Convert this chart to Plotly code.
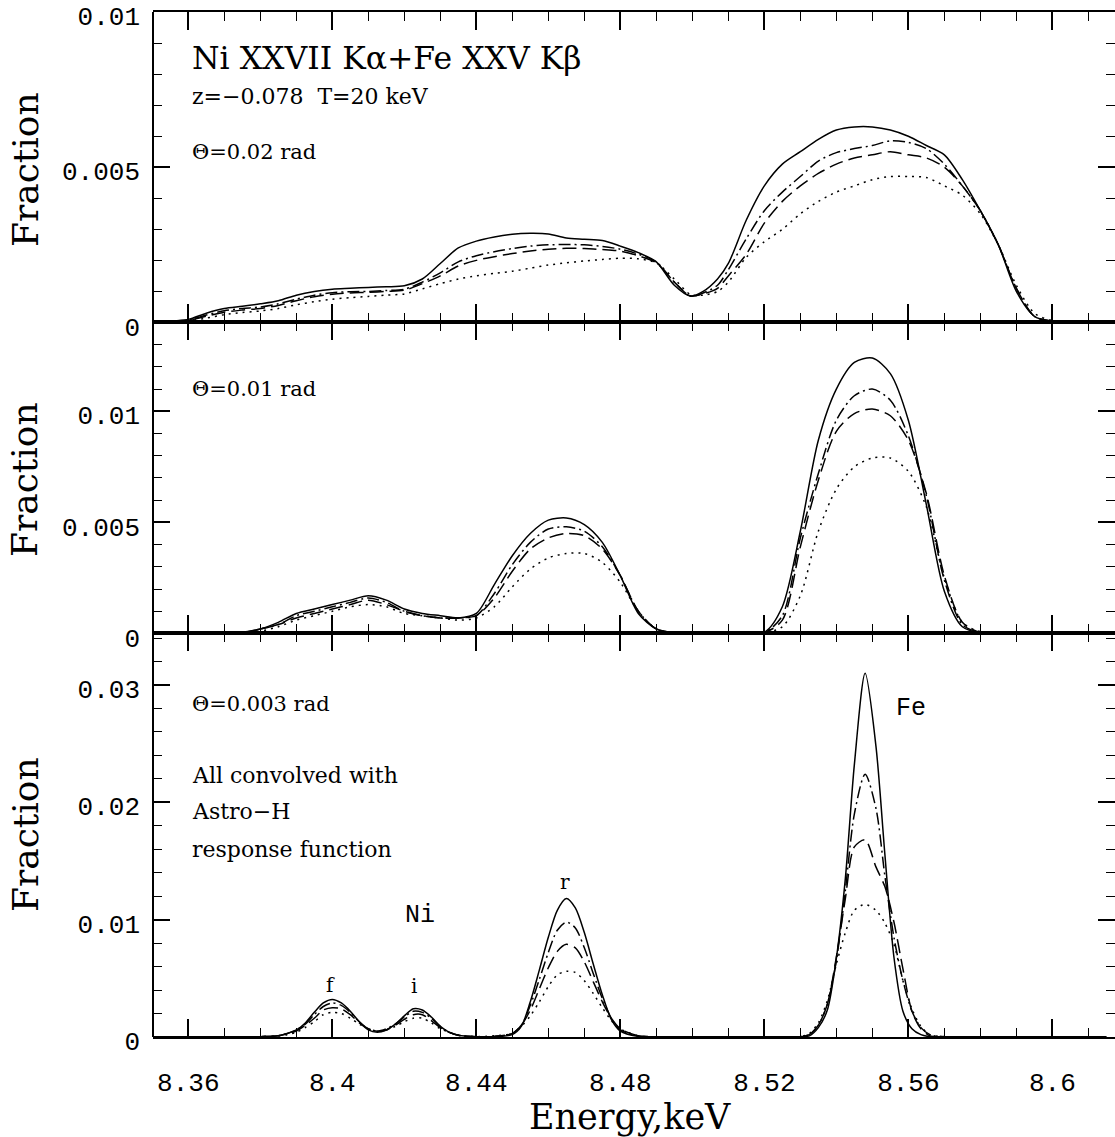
import plotly.graph_objects as go

# ---------------- data ----------------
# Panel 1: Theta = 0.02 rad
energy_top = [8.350, 8.355, 8.360, 8.365, 8.370, 8.375, 8.380, 8.385, 8.390, 8.395,
              8.400, 8.405, 8.410, 8.415, 8.420, 8.425, 8.430, 8.435, 8.440, 8.445,
              8.450, 8.455, 8.460, 8.465, 8.470, 8.475, 8.480, 8.485, 8.490, 8.495,
              8.4995, 8.503, 8.507, 8.510, 8.515, 8.520, 8.525, 8.530, 8.535, 8.540,
              8.545, 8.550, 8.555, 8.560, 8.565, 8.570, 8.575, 8.580, 8.585, 8.590,
              8.595, 8.600, 8.607, 8.615]
top_solid = [0.00005, 0.00005, 0.0001, 0.0003, 0.00045, 0.00052, 0.0006, 0.0007, 0.00088, 0.001,
             0.00107, 0.0011, 0.00113, 0.00115, 0.00118, 0.0014, 0.0019, 0.0024, 0.00262, 0.00275,
             0.00284, 0.00287, 0.00285, 0.00272, 0.00268, 0.00264, 0.00246, 0.00225, 0.00195, 0.0012,
             0.00085, 0.0010, 0.0014, 0.0019, 0.0033, 0.0044, 0.0051, 0.0055, 0.0059, 0.0062,
             0.0063, 0.0063, 0.0062, 0.0060, 0.0057, 0.0054, 0.0046, 0.0036, 0.0025, 0.0010,
             0.0002, 0.00004, 0.00003, 0.00003]
top_dashdot = [0.00005, 0.00005, 0.00008, 0.00024, 0.00038, 0.00045, 0.0005, 0.0006, 0.00075, 0.00088,
               0.00096, 0.00099, 0.001, 0.00103, 0.00107, 0.0013, 0.0016, 0.00195, 0.00215, 0.00228,
               0.00238, 0.00246, 0.0025, 0.00251, 0.0025, 0.00245, 0.00236, 0.0022, 0.00195, 0.0013,
               0.00085, 0.00095, 0.0012, 0.0017, 0.0027, 0.0036, 0.0042, 0.0047, 0.0052, 0.00547,
               0.0056, 0.0057, 0.00585, 0.0058, 0.0056, 0.0051, 0.0044, 0.0036, 0.0025, 0.0011,
               0.0002, 0.00004, 0.00003, 0.00003]
top_dash = [0.00005, 0.00005, 0.00007, 0.0002, 0.00033, 0.0004, 0.00045, 0.00055, 0.0007, 0.00083,
            0.00091, 0.00095, 0.00097, 0.001, 0.00104, 0.00125, 0.0015, 0.00182, 0.002, 0.00212,
            0.00222, 0.0023, 0.00236, 0.00239, 0.00238, 0.00235, 0.0023, 0.00215, 0.00192, 0.0013,
            0.00085, 0.00092, 0.0011, 0.0015, 0.0022, 0.0032, 0.0039, 0.0044, 0.0048, 0.0051,
            0.0053, 0.0054, 0.0055, 0.0054, 0.0053, 0.0050, 0.0044, 0.0036, 0.0025, 0.0011,
            0.0002, 0.00004, 0.00003, 0.00003]
top_dot = [0.00005, 0.00004, 0.00005, 0.00014, 0.00025, 0.00032, 0.00037, 0.00045, 0.00057, 0.00067,
           0.00075, 0.0008, 0.00084, 0.00088, 0.00092, 0.00108, 0.00125, 0.0014, 0.0015, 0.00158,
           0.00165, 0.00175, 0.00185, 0.00192, 0.00198, 0.00203, 0.00207, 0.00205, 0.00192, 0.0014,
           0.0009, 0.00088, 0.0010, 0.0013, 0.0021, 0.0026, 0.0030, 0.0035, 0.0039, 0.0042,
           0.0044, 0.0046, 0.0047, 0.0047, 0.00467, 0.0044, 0.0041, 0.0035, 0.0025, 0.0012,
           0.0003, 0.00006, 0.00004, 0.00003]

# Panel 2: Theta = 0.01 rad
energy_mid = [8.350, 8.360, 8.370, 8.375, 8.380, 8.385, 8.390, 8.395, 8.400, 8.405,
              8.410, 8.415, 8.420, 8.425, 8.430, 8.435, 8.440, 8.445, 8.450, 8.455,
              8.460, 8.465, 8.470, 8.475, 8.480, 8.485, 8.490, 8.495, 8.500, 8.510,
              8.520, 8.525, 8.530, 8.535, 8.540, 8.545, 8.550, 8.555, 8.560, 8.565,
              8.570, 8.575, 8.580, 8.590, 8.600, 8.615]
mid_solid = [2e-5, 2e-5, 2e-5, 5e-5, 0.0002, 0.0005, 0.0009, 0.0011, 0.0013, 0.0015,
             0.0017, 0.0015, 0.0011, 0.0009, 0.0008, 0.0007, 0.0009, 0.0022, 0.0035, 0.0045,
             0.0051, 0.0052, 0.0049, 0.0041, 0.0026, 0.0009, 0.0002, 3e-5, 2e-5, 2e-5,
             5e-5, 0.0012, 0.0046, 0.0087, 0.0110, 0.0122, 0.0124, 0.0117, 0.0096, 0.0058,
             0.0019, 0.0003, 3e-5, 2e-5, 2e-5, 2e-5]
mid_dashdot = [2e-5, 2e-5, 2e-5, 4e-5, 0.0002, 0.0004, 0.0008, 0.0010, 0.0012, 0.0014,
               0.0016, 0.0014, 0.0010, 0.0008, 0.0007, 0.0007, 0.0008, 0.0018, 0.0031, 0.0041,
               0.0047, 0.0048, 0.0046, 0.0039, 0.0026, 0.0010, 0.0002, 3e-5, 2e-5, 2e-5,
               4e-5, 0.0008, 0.0043, 0.0072, 0.0096, 0.0107, 0.0110, 0.0105, 0.0089, 0.0062,
               0.0024, 0.0004, 5e-5, 2e-5, 2e-5, 2e-5]
mid_dash = [2e-5, 2e-5, 2e-5, 4e-5, 0.0002, 0.0004, 0.0007, 0.0009, 0.0011, 0.0013,
            0.0015, 0.0013, 0.0010, 0.0008, 0.0007, 0.0007, 0.0008, 0.0016, 0.0028, 0.0038,
            0.0043, 0.0045, 0.0044, 0.0038, 0.0026, 0.0010, 0.0002, 3e-5, 2e-5, 2e-5,
            4e-5, 0.0006, 0.0039, 0.0069, 0.0091, 0.0099, 0.0101, 0.0098, 0.0087, 0.0063,
            0.0026, 0.0005, 5e-5, 2e-5, 2e-5, 2e-5]
mid_dot = [2e-5, 2e-5, 2e-5, 3e-5, 0.0001, 0.0003, 0.0006, 0.0008, 0.0010, 0.0012,
           0.0013, 0.0012, 0.0009, 0.0008, 0.0007, 0.0006, 0.0007, 0.0012, 0.0021, 0.0029,
           0.0034, 0.0036, 0.0036, 0.0032, 0.0023, 0.0010, 0.0002, 4e-5, 2e-5, 2e-5,
           3e-5, 0.0003, 0.0017, 0.0046, 0.0065, 0.0075, 0.0079, 0.0079, 0.0073, 0.0057,
           0.0025, 0.0005, 8e-5, 3e-5, 2e-5, 2e-5]

# Panel 3: Theta = 0.003 rad (convolved with Astro-H response)
energy_bot = [8.350, 8.370, 8.380, 8.385, 8.3875, 8.390, 8.3925, 8.395, 8.3975, 8.400,
              8.4025, 8.405, 8.4075, 8.410, 8.4125, 8.415, 8.4175, 8.420, 8.4225, 8.425,
              8.4275, 8.430, 8.4325, 8.435, 8.440, 8.445, 8.450, 8.4525, 8.455, 8.4575,
              8.460, 8.4625, 8.465, 8.4675, 8.470, 8.4725, 8.475, 8.4775, 8.480, 8.485,
              8.490, 8.500, 8.510, 8.520, 8.525, 8.530, 8.5325, 8.535, 8.5375, 8.540,
              8.5425, 8.545, 8.548, 8.551, 8.5535, 8.556, 8.5585, 8.561, 8.5635, 8.566,
              8.570, 8.580, 8.590, 8.600, 8.615]
bot_solid = [2e-5, 2e-5, 3e-5, 0.0001, 0.0003, 0.0006, 0.0012, 0.0021, 0.0029, 0.0032,
             0.0029, 0.0022, 0.0013, 0.0006, 0.0004, 0.0006, 0.0011, 0.0018, 0.0024, 0.0023,
             0.0017, 0.0009, 0.0004, 0.00015, 3e-5, 3e-5, 0.0002, 0.0009, 0.0030, 0.0057,
             0.0085, 0.0108, 0.0118, 0.0110, 0.0089, 0.0062, 0.0036, 0.0015, 0.0005, 5e-5,
             2e-5, 2e-5, 2e-5, 2e-5, 2e-5, 3e-5, 0.0001, 0.0008, 0.0023, 0.0067,
             0.0135, 0.0232, 0.0310, 0.0248, 0.0155, 0.0068, 0.0022, 0.0007, 0.0002, 3e-5,
             2e-5, 2e-5, 2e-5, 2e-5, 2e-5]
bot_dashdot = [2e-5, 2e-5, 3e-5, 0.0001, 0.0003, 0.0006, 0.0011, 0.0019, 0.0026, 0.0029,
               0.0027, 0.0021, 0.0013, 0.0007, 0.0005, 0.0007, 0.0011, 0.0017, 0.0022, 0.0021,
               0.0016, 0.0009, 0.0004, 0.00015, 3e-5, 5e-5, 0.0003, 0.0010, 0.0027, 0.0049,
               0.0072, 0.0091, 0.0098, 0.0093, 0.0076, 0.0054, 0.0033, 0.0016, 0.0006, 0.0001,
               2e-5, 2e-5, 2e-5, 2e-5, 2e-5, 3e-5, 0.0002, 0.0010, 0.0028, 0.0065,
               0.0125, 0.0190, 0.0224, 0.0195, 0.0137, 0.0085, 0.0048, 0.0022, 0.0008, 0.0002,
               3e-5, 2e-5, 2e-5, 2e-5, 2e-5]
bot_dash = [2e-5, 2e-5, 3e-5, 0.0001, 0.0003, 0.0005, 0.0010, 0.0016, 0.0023, 0.0025,
            0.0024, 0.0019, 0.0012, 0.0007, 0.0005, 0.0006, 0.0010, 0.0015, 0.0019, 0.0019,
            0.0014, 0.0008, 0.0004, 0.00015, 3e-5, 5e-5, 0.0003, 0.0010, 0.0023, 0.0041,
            0.0059, 0.0073, 0.0079, 0.0076, 0.0064, 0.0047, 0.0030, 0.0016, 0.0007, 0.0001,
            2e-5, 2e-5, 2e-5, 2e-5, 2e-5, 3e-5, 0.0002, 0.0010, 0.0028, 0.0068,
            0.0118, 0.0162, 0.0168, 0.0145, 0.0128, 0.0098, 0.0058, 0.0022, 0.0007, 0.0001,
            3e-5, 2e-5, 2e-5, 2e-5, 2e-5]
bot_dot = [2e-5, 2e-5, 3e-5, 0.0001, 0.0002, 0.0004, 0.0008, 0.0013, 0.0019, 0.0021,
           0.0020, 0.0016, 0.0011, 0.0007, 0.0005, 0.0006, 0.0009, 0.0013, 0.0016, 0.0016,
           0.0012, 0.0007, 0.0004, 0.00015, 3e-5, 0.0001, 0.0003, 0.0009, 0.0018, 0.0030,
           0.0043, 0.0053, 0.0056, 0.0055, 0.0048, 0.0037, 0.0025, 0.0014, 0.0007, 0.0001,
           2e-5, 2e-5, 2e-5, 2e-5, 2e-5, 3e-5, 0.0003, 0.0012, 0.0031, 0.0062,
           0.0089, 0.0108, 0.0113, 0.0108, 0.0097, 0.0079, 0.0048, 0.0024, 0.0009, 0.0002,
           3e-5, 2e-5, 2e-5, 2e-5, 2e-5]

# ---------------- styling ----------------
W, H = 1115, 1137
ML, MR, MT, MB = 153, 0, 12, 100
X_RANGE = [8.3502, 8.6174]
Y_RANGES = {"y": [0, 0.0100001], "y2": [0, 0.014], "y3": [0, 0.0344]}
DOMAINS = {"y": [0.6971, 1.0], "y2": [0.3937, 0.6971], "y3": [0.0, 0.3937]}

SERIF = "DejaVu Serif"
MONO = "Liberation Mono"

STYLES = [
    ("solid", "solid"),
    ("dashdot", "12px,4px,2px,4px"),
    ("dash", "14px,6px"),
    ("dot", "2px,5px"),
]

panels = [
    ("x", "y", energy_top, [top_solid, top_dashdot, top_dash, top_dot]),
    ("x2", "y2", energy_mid, [mid_solid, mid_dashdot, mid_dash, mid_dot]),
    ("x3", "y3", energy_bot, [bot_solid, bot_dashdot, bot_dash, bot_dot]),
]

fig = go.Figure()
for xa, ya, energy, series in panels:
    for (name, dash), vals in zip(STYLES, series):
        fig.add_trace(go.Scatter(
            x=energy, y=vals, xaxis=xa, yaxis=ya, mode="lines", name=name,
            line=dict(color="black", width=1.5, dash=dash, shape="spline", smoothing=0.8),
            hoverinfo="skip", showlegend=False,
        ))

xaxis_common = dict(
    range=X_RANGE, showgrid=False, zeroline=False,
    showline=True, linecolor="black", linewidth=2, mirror="ticks",
    ticks="inside", ticklen=18, tickwidth=1.5, tickcolor="black",
    tick0=8.36, dtick=0.04,
    minor=dict(ticks="inside", dtick=0.01, ticklen=9, tickwidth=1, tickcolor="black", showgrid=False),
    tickfont=dict(family=MONO, size=26, color="black"),
    ticklabelstandoff=21,
)
yaxis_common = dict(
    showgrid=False, zeroline=False, showline=False, mirror="ticks",
    ticks="inside", ticklen=17, tickwidth=1.5, tickcolor="black",
    tickfont=dict(family=MONO, size=26, color="black"),
    ticklabelstandoff=12, ticklabelshift=4,
)

layout = dict(
    width=W, height=H, margin=dict(l=ML, r=MR, t=MT, b=MB),
    plot_bgcolor="white", paper_bgcolor="white", showlegend=False,
)
ydtick = {"y": (0.005, 0.001), "y2": (0.005, 0.001), "y3": (0.01, 0.002)}
for xa, ya, _, _ in panels:
    xkey = "xaxis" + xa[1:]
    ykey = "yaxis" + ya[1:]
    layout[xkey] = dict(xaxis_common, anchor=ya, showticklabels=(xa == "x3"))
    major, minor = ydtick[ya]
    layout[ykey] = dict(yaxis_common, anchor=xa, domain=DOMAINS[ya], range=Y_RANGES[ya],
                        tick0=0, dtick=major,
                        minor=dict(ticks="inside", dtick=minor, ticklen=9, tickwidth=1,
                                   tickcolor="black", showgrid=False))
fig.update_layout(**layout)

# left frame edge
fig.add_shape(type="line", xref="paper", yref="paper", x0=0, x1=0, y0=0, y1=1,
              line=dict(color="black", width=2))


def note(text, x, y, xref, yref, size, family=SERIF, xanchor="left", angle=0):
    fig.add_annotation(text=text, x=x, y=y, xref=xref, yref=yref, showarrow=False,
                       xanchor=xanchor, yanchor="middle", textangle=angle,
                       font=dict(family=family, size=size, color="black"))


# panel texts
note("Ni XXVII K\u03b1+Fe XXV K\u03b2", 8.36056, 0.00852, "x", "y", 31.5)
note("z=\u22120.078  T=20 keV", 8.36056, 0.00727, "x", "y", 22)
note("\u0398=0.02 rad", 8.36056, 0.0055, "x", "y", 21)
note("\u0398=0.01 rad", 8.36056, 0.0110, "x2", "y2", 21)
note("\u0398=0.003 rad", 8.36056, 0.0284, "x3", "y3", 21)
note("All convolved with", 8.36056, 0.02225, "x3", "y3", 22)
note("Astro\u2212H", 8.36056, 0.0192, "x3", "y3", 22)
note("response function", 8.36056, 0.0160, "x3", "y3", 22)
note("Ni", 8.4244, 0.01038, "x3", "y3", 25, family=MONO, xanchor="center")
note("Fe", 8.5606, 0.0280, "x3", "y3", 25, family=MONO, xanchor="center")
note("f", 8.3994, 0.00445, "x3", "y3", 20, xanchor="center")
note("i", 8.4228, 0.00436, "x3", "y3", 20, xanchor="center")
note("r", 8.4647, 0.01318, "x3", "y3", 20, xanchor="center")

# axis titles
plot_w = W - ML - MR
plot_h = H - MT - MB


def px_to_paper_x(px):
    return (px - ML) / plot_w


def px_to_paper_y(py):
    return (H - MB - py) / plot_h


for cy in (170, 480, 835):
    note("Fraction", px_to_paper_x(25), px_to_paper_y(cy), "paper", "paper", 36,
         xanchor="center", angle=-90)
note("Energy,keV", px_to_paper_x(630), px_to_paper_y(1117), "paper", "paper", 35,
     xanchor="center")

fig.write_html("out.html")
